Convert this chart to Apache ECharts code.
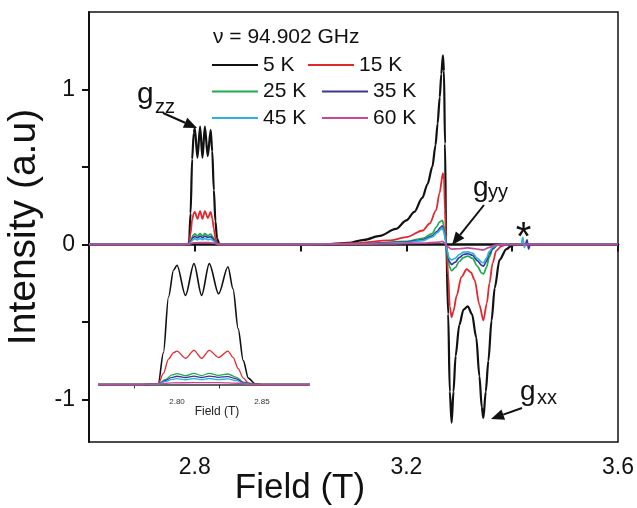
<!DOCTYPE html>
<html><head><meta charset="utf-8">
<script src="https://cdn.jsdelivr.net/npm/echarts@6/dist/echarts.min.js"></script>
<style>html,body{margin:0;padding:0;background:#fff}#c{width:637px;height:508px}</style>
</head><body><div id="c"></div>
<script>
// ---- data (field in T, intensity in a.u.) ----
const seriesNames = ['5 K', '15 K', '25 K', '35 K', '45 K', '60 K'];
const s5K = [[2.600,0],[2.700,0],[2.780,0],[2.789,0.005],[2.792,0.2],[2.795,0.55],[2.798,0.72],[2.800,0.75],[2.805,0.56],[2.810,0.76],[2.8145,0.56],[2.819,0.76],[2.8245,0.57],[2.830,0.74],[2.833,0.60],[2.836,0.35],[2.839,0.15],[2.842,0.04],[2.846,0.005],[2.850,0],
  [2.950,0],[3.050,0.002],[3.090,0.01],[3.120,0.03],[3.150,0.055],[3.180,0.10],[3.200,0.155],[3.215,0.21],[3.230,0.30],[3.240,0.39],[3.249,0.50],[3.255,0.64],[3.259,0.78],[3.263,0.95],[3.266,1.10],[3.269,1.22],[3.271,1.12],[3.273,0.65],[3.275,0.05],
  [3.279,-0.45],[3.282,-0.95],[3.2855,-1.15],[3.289,-0.95],[3.293,-0.72],[3.300,-0.52],[3.308,-0.42],[3.316,-0.40],[3.324,-0.45],[3.332,-0.60],[3.338,-0.85],[3.3425,-1.05],[3.3455,-1.12],[3.350,-0.95],[3.355,-0.75],[3.361,-0.49],[3.367,-0.28],[3.376,-0.10],[3.389,-0.03],[3.400,-0.005],[3.410,0],[3.500,0],[3.600,0]];
const s15K = [[2.600,0],[2.780,0],[2.789,0.003],[2.792,0.07],[2.795,0.16],[2.798,0.20],[2.800,0.21],[2.805,0.165],[2.810,0.215],[2.8145,0.165],[2.819,0.215],[2.8245,0.17],[2.830,0.21],[2.833,0.17],[2.836,0.10],[2.839,0.04],[2.842,0.01],[2.846,0],
  [3.000,0],[3.100,0.008],[3.168,0.026],[3.200,0.047],[3.231,0.09],[3.244,0.135],[3.256,0.22],[3.2626,0.33],[3.269,0.46],[3.271,0.42],[3.273,0.22],[3.2755,-0.02],[3.279,-0.2],[3.282,-0.40],[3.2855,-0.47],[3.289,-0.43],[3.295,-0.33],[3.304,-0.21],[3.314,-0.16],[3.322,-0.18],[3.329,-0.23],[3.338,-0.39],[3.3455,-0.49],[3.352,-0.38],[3.357,-0.25],[3.363,-0.12],[3.370,-0.04],[3.380,-0.01],[3.390,0],[3.600,0]];
const s25K = [[2.600,0],[2.780,0],[2.789,0.002],[2.793,0.03],[2.797,0.06],[2.800,0.068],[2.805,0.055],[2.810,0.07],[2.8145,0.056],[2.819,0.07],[2.8245,0.057],[2.830,0.066],[2.835,0.045],[2.839,0.015],[2.844,0.002],[2.850,0],
  [3.000,0],[3.120,0.005],[3.200,0.02],[3.231,0.04],[3.249,0.07],[3.256,0.11],[3.263,0.145],[3.268,0.155],[3.271,0.12],[3.274,0.04],[3.277,-0.06],[3.281,-0.14],[3.2855,-0.17],[3.292,-0.15],[3.300,-0.11],[3.308,-0.085],[3.316,-0.075],[3.325,-0.09],[3.334,-0.14],[3.3425,-0.185],[3.346,-0.19],[3.351,-0.15],[3.357,-0.08],[3.363,-0.03],[3.372,-0.005],[3.380,0],[3.600,0]];
const s35K = [[2.600,0],[2.780,0],[2.789,0.002],[2.793,0.025],[2.797,0.045],[2.800,0.052],[2.805,0.043],[2.810,0.053],[2.8145,0.044],[2.819,0.053],[2.8245,0.045],[2.830,0.05],[2.835,0.035],[2.839,0.012],[2.844,0.002],[2.850,0],
  [3.000,0],[3.120,0.004],[3.200,0.015],[3.231,0.03],[3.249,0.055],[3.258,0.085],[3.265,0.11],[3.268,0.12],[3.271,0.09],[3.274,0.03],[3.277,-0.05],[3.281,-0.11],[3.2855,-0.13],[3.292,-0.115],[3.300,-0.085],[3.308,-0.065],[3.316,-0.06],[3.325,-0.07],[3.334,-0.105],[3.3425,-0.135],[3.346,-0.14],[3.351,-0.11],[3.357,-0.06],[3.363,-0.025],[3.372,-0.005],[3.380,0],
  [3.425,0],[3.428,0.03],[3.431,-0.03],[3.434,0],[3.600,0]];
const s45K = [[2.600,0],[2.780,0],[2.789,0.002],[2.793,0.018],[2.797,0.032],[2.800,0.037],[2.805,0.03],[2.810,0.038],[2.8145,0.031],[2.819,0.038],[2.8245,0.031],[2.830,0.035],[2.835,0.024],[2.839,0.008],[2.844,0.001],[2.850,0],
  [3.000,0],[3.120,0.003],[3.200,0.012],[3.231,0.025],[3.249,0.048],[3.258,0.075],[3.265,0.095],[3.268,0.105],[3.271,0.08],[3.274,0.02],[3.277,-0.04],[3.281,-0.09],[3.2855,-0.10],[3.292,-0.09],[3.300,-0.065],[3.308,-0.05],[3.316,-0.048],[3.325,-0.056],[3.334,-0.09],[3.3425,-0.115],[3.346,-0.118],[3.351,-0.09],[3.357,-0.045],[3.363,-0.018],[3.372,-0.004],[3.380,0],
  [3.417,0],[3.420,0.045],[3.423,-0.02],[3.426,0],[3.600,0]];
const s60K = [[2.600,0],[2.780,0],[2.790,0.004],[2.797,0.01],[2.810,0.012],[2.825,0.012],[2.836,0.008],[2.845,0.001],[2.850,0],
  [3.000,0],[3.150,0.003],[3.230,0.008],[3.262,0.015],[3.269,0.02],[3.273,0.005],[3.278,-0.015],[3.285,-0.03],[3.300,-0.028],[3.316,-0.022],[3.330,-0.028],[3.345,-0.035],[3.356,-0.02],[3.368,-0.005],[3.380,0],[3.600,0]];
const allData = [s5K, s15K, s25K, s35K, s45K, s60K];
const xTickLabels = [2.8, 3.2, 3.6];
const yTickValues = [-1, -0.5, 0, 0.5, 1];
const yTickLabels = [-1, 0, 1];
const insetTickLabels = [2.80, 2.85];
const insetMinorTicks = [2.775, 2.825];

// ---- styles ----
const FONT = 'Liberation Sans, Arial, Helvetica, sans-serif';
const colors = ['#111111', '#e0282e', '#1faa4f', '#3b3596', '#2fb0e6', '#c9479a'];
const widths = [2.2, 1.8, 1.7, 1.7, 1.7, 1.7];

function arrow(x1, y1, x2, y2) {
  const a = Math.atan2(y2 - y1, x2 - x1), L = 13, W = 5.5;
  const bx = x2 - L * Math.cos(a), by = y2 - L * Math.sin(a);
  const nx = -Math.sin(a) * W, ny = Math.cos(a) * W;
  return [
    {type: 'line', shape: {x1: x1, y1: y1, x2: bx, y2: by}, style: {stroke: '#111', lineWidth: 2}, z: 100},
    {type: 'polygon', shape: {points: [[x2, y2], [bx + nx, by + ny], [bx - nx, by - ny]]}, style: {fill: '#111'}, z: 100}
  ];
}
function txt(x, y, text, size, align) {
  return {type: 'text', x: x, y: y, z: 100,
    style: {text: text, font: size + 'px ' + FONT, fill: '#111', verticalAlign: 'middle', align: align || 'left'}};
}

const series = [];
allData.forEach((d, i) => {
  series.push({name: seriesNames[i], type: 'line', data: d, xAxisIndex: 0, yAxisIndex: 0,
    showSymbol: false, smooth: 0.3, smoothMonotone: 'x', clip: true,
    lineStyle: {color: colors[i], width: widths[i]}, itemStyle: {color: colors[i]}, z: 10 + i});
});
allData.forEach((d, i) => {
  series.push({name: seriesNames[i], type: 'line', data: d, xAxisIndex: 1, yAxisIndex: 1,
    showSymbol: false, smooth: 0.3, smoothMonotone: 'x', clip: true,
    lineStyle: {color: colors[i], width: i === 0 ? 1.6 : 1.3}, itemStyle: {color: colors[i]}, z: 10 + i});
});

const legendCommon = {orient: 'vertical', icon: 'rect', itemWidth: 46, itemHeight: 2.2, itemGap: 5.5, padding: 0,
  selectedMode: false, textStyle: {fontSize: 21, lineHeight: 21, fontFamily: FONT, color: '#111'}};

const graphics = [
  txt(213, 37.5, 'ν = 94.902 GHz', 21),
  txt(137, 95, 'g', 30), txt(155, 107, 'zz', 20),
  txt(473, 188, 'g', 28), txt(488, 192, 'yy', 20),
  txt(520, 392, 'g', 28), txt(537, 398, 'xx', 20),
  txt(523.5, 239, '*', 40, 'center'),
  {type: 'text', x: 217, y: 412, z: 100, style: {text: 'Field (T)', font: '12px ' + FONT, fill: '#222', verticalAlign: 'middle', align: 'center'}}
].concat(arrow(163, 113, 197, 128), arrow(484, 205, 452, 245), arrow(522, 408, 491, 419));

const option = {
  animation: false,
  backgroundColor: '#fff',
  grid: [
    {left: 89, right: 19, top: 12, bottom: 66, show: true, borderColor: '#111', borderWidth: 1.5,
      backgroundColor: 'transparent', containLabel: false, outerBoundsMode: 'none'},
    {left: 99, right: 329, top: 255, height: 137, show: false, containLabel: false, outerBoundsMode: 'none'}
  ],
  xAxis: [
    {type: 'value', gridIndex: 0, min: 2.6, max: 3.6, interval: 0.2,
      axisLine: {show: true, lineStyle: {color: '#111', width: 2.5}},
      axisTick: {show: true, inside: false, length: 7, lineStyle: {color: '#111', width: 2}},
      axisLabel: {customValues: xTickLabels, formatter: v => v.toFixed(1), fontSize: 23, fontFamily: FONT, color: '#111', margin: 14},
      splitLine: {show: false},
      name: 'Field (T)', nameLocation: 'middle', nameGap: 29, nameMoveOverlap: false,
      nameTextStyle: {fontSize: 35, lineHeight: 35, fontFamily: FONT, color: '#111', padding: [0, 107, 0, 0]}},
    {type: 'value', gridIndex: 1, min: 2.7541, max: 2.8771,
      axisLine: {show: true, lineStyle: {color: '#333', width: 1.5}},
      axisTick: {show: true, customValues: insetMinorTicks, inside: false, length: 4, lineStyle: {color: '#333', width: 1}},
      axisLabel: {customValues: insetTickLabels, formatter: v => v.toFixed(2), fontSize: 8, fontFamily: FONT, color: '#333', margin: 6},
      splitLine: {show: false}}
  ],
  yAxis: [
    {type: 'value', gridIndex: 0, min: -1.275, max: 1.5,
      axisLine: {show: true, lineStyle: {color: '#111', width: 2}},
      axisTick: {show: true, customValues: yTickValues, inside: false, length: 7, lineStyle: {color: '#111', width: 2}},
      axisLabel: {customValues: yTickLabels, formatter: v => String(v), fontSize: 23, fontFamily: FONT, color: '#111', margin: 14},
      splitLine: {show: false},
      name: 'Intensity (a.u)', nameLocation: 'middle', nameGap: 45, nameMoveOverlap: false,
      nameTextStyle: {fontSize: 39, lineHeight: 39, fontFamily: FONT, color: '#111'}},
    {type: 'value', gridIndex: 1, min: -0.047, max: 0.814, show: false,
      axisLine: {show: false}, axisTick: {show: false}, axisLabel: {show: false}, splitLine: {show: false}}
  ],
  legend: [
    Object.assign({}, legendCommon, {data: ['5 K', '25 K', '45 K'], left: 212, top: 54.5}),
    Object.assign({}, legendCommon, {data: ['15 K'], left: 308, top: 54.5}),
    Object.assign({}, legendCommon, {data: ['35 K', '60 K'], left: 322, top: 81})
  ],
  graphic: graphics,
  series: series
};
const chart = echarts.init(document.getElementById('c'), null, {renderer: 'canvas'});
chart.setOption(option);
</script>
</body></html>
